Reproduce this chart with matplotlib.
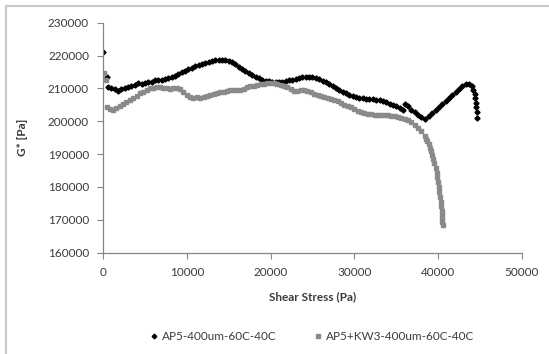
import matplotlib
matplotlib.use("Agg")
import matplotlib.pyplot as plt
from matplotlib.lines import Line2D

# AP5-400um-60C-40C
stress_a = [0, 480, 600, 1000, 1400, 1800, 2200, 2600, 3000, 3400, 3800, 4200,
            4600, 5000, 5400, 5800, 6200, 6600, 7000, 7400, 7800, 8200, 8600,
            9000, 9400, 9800, 10200, 10600, 11000, 11400, 11800, 12200, 12600,
            13000, 13400, 13800, 14200, 14600, 15000, 15400, 15800, 16200,
            16600, 17000, 17400, 17800, 18200, 18600, 19000, 19400, 19800,
            20200, 20600, 21000, 21400, 21800, 22200, 22600, 23000, 23400,
            23800, 24200, 24600, 25000, 25400, 25800, 26200, 26600, 27000,
            27400, 27800, 28200, 28600, 29000, 29400, 29800, 30200, 30600,
            31000, 31400, 31800, 32200, 32600, 33000, 33400, 33800, 34200,
            34600, 35000, 35400, 35800, 36000, 36400, 36800, 37200, 37600,
            38000, 38400, 38900, 39300, 39700, 40100, 40500, 40900, 41300,
            41700, 42100, 42500, 42900, 43300, 43700, 44000, 44200, 44350,
            44450, 44520, 44570, 44600, 44610]
gstar_a = [221200, 213400, 210400, 210100, 209700, 209300, 209700, 210200,
           210400, 210600, 211000, 211500, 211300, 211700, 212000, 211900,
           212600, 212500, 212700, 212900, 213200, 213500, 213900, 214400,
           214900, 215400, 215800, 216300, 216700, 217000, 217400, 217700,
           218000, 218300, 218500, 218600, 218700, 218500, 218200, 217900,
           217300, 216600, 215900, 215300, 214700, 214100, 213600, 213100,
           212700, 212400, 212200, 212100, 212000, 212000, 212100, 212300,
           212500, 212700, 212900, 213200, 213400, 213400, 213500, 213400,
           213100, 212800, 212400, 211800, 211200, 210600, 210000, 209500,
           209000, 208500, 208100, 207800, 207500, 207200, 207000, 206900,
           206800, 206700, 206600, 206500, 206300, 205900, 205400, 205000,
           204500, 204000, 203400, 205300, 204500, 203500, 202700, 201900,
           201200, 200600, 201500, 202400, 203400, 204300, 205200, 206200,
           207100, 208000, 208900, 209900, 210700, 211200, 211200, 210600,
           209600, 208400, 207100, 205700, 204300, 202800, 201100]

# AP5+KW3-400um-60C-40C
stress_b = [100, 350, 450, 800, 1200, 1600, 2000, 2400, 2800, 3200, 3600,
            4000, 4400, 4800, 5200, 5600, 6000, 6400, 6800, 7200, 7600, 8000,
            8400, 8800, 9200, 9600, 10000, 10400, 10800, 11200, 11600, 12000,
            12400, 12800, 13200, 13600, 14000, 14400, 14800, 15200, 15600,
            16000, 16400, 16800, 17200, 17600, 18000, 18400, 18800, 19200,
            19600, 20000, 20400, 20800, 21200, 21600, 22000, 22400, 22800,
            23200, 23600, 24000, 24400, 24800, 25200, 25600, 26000, 26400,
            26800, 27200, 27600, 28000, 28400, 28800, 29200, 29600, 30000,
            30400, 30800, 31200, 31600, 32000, 32400, 32800, 33200, 33600,
            34000, 34400, 34800, 35200, 35600, 36000, 36400, 36800, 37200,
            37600, 38000, 38400, 38550, 38700, 38850, 39000, 39150, 39300,
            39420, 39550, 39680, 39800, 39900, 40000, 40080, 40150, 40230,
            40300, 40350, 40400, 40440, 40480, 40510, 40560]
gstar_b = [214800, 212600, 204300, 203600, 203400, 204000, 204600, 205200,
           205900, 206500, 207100, 207800, 208500, 209000, 209500, 210000,
           210100, 210500, 210400, 210200, 210000, 209900, 210000, 210000,
           209800, 208800, 208000, 207300, 207100, 207300, 207200, 207500,
           207700, 208100, 208400, 208700, 208800, 208900, 209200, 209400,
           209500, 209500, 209600, 209900, 210300, 210600, 210800, 211000,
           211200, 211400, 211500, 211600, 211500, 211300, 211000, 210800,
           210300, 209800, 209300, 209100, 209400, 209600, 209300, 208800,
           208400, 208100, 207800, 207400, 207000, 206700, 206400, 206100,
           205600, 205100, 204600, 204200, 203700, 203200, 202800, 202500,
           202200, 202100, 202000, 202000, 201900, 201900, 201800, 201700,
           201500, 201300, 201100, 200800, 200400, 199800, 199000, 198000,
           196900, 195400, 194700, 193900, 193000, 192000, 190900, 189700,
           188500, 187200, 185800, 184300, 182900, 181400, 180000, 178500,
           177000, 175500, 174200, 172800, 171600, 170400, 169400, 168300]

names = ["AP5-400um-60C-40C", "AP5+KW3-400um-60C-40C"]
x_ticks = [0, 10000, 20000, 30000, 40000, 50000]
y_ticks = [160000, 170000, 180000, 190000, 200000, 210000, 220000, 230000]

plt.rcParams["font.family"] = ["Lato", "DejaVu Sans"]
axis_grey = "#868686"
text_col = "#3b3b3b"

fig = plt.figure(figsize=(5.49, 3.54), dpi=100)
ax = fig.add_axes([0.1876, 0.2862, 0.7632, 0.6497])

ax.plot(stress_a, gstar_a, linestyle="none", marker="D", markersize=2.6,
        color="black", label=names[0])
ax.plot(stress_b, gstar_b, linestyle="none", marker="s", markersize=3.0,
        color="#8a8a8a", label=names[1])

ax.set_xlim(0, 50000)
ax.set_ylim(160000, 230000)
ax.set_xticks(x_ticks)
ax.set_yticks(y_ticks)
ax.tick_params(direction="out", length=4, width=0.8, color=axis_grey,
               labelsize=8.5, labelcolor=text_col, pad=6)
for side in ["top", "right"]:
    ax.spines[side].set_visible(False)
for side in ["left", "bottom"]:
    ax.spines[side].set_color(axis_grey)
    ax.spines[side].set_linewidth(0.9)

ax.set_xlabel("Shear Stress (Pa)", fontsize=8.5, fontweight="bold",
              color=text_col, labelpad=10)
ax.set_ylabel("G* [Pa]", fontsize=8.5, fontweight="bold",
              color=text_col, labelpad=14)

ax.legend(loc="center", bbox_to_anchor=(0.5, -0.365), ncol=2, frameon=False,
          fontsize=8.5, labelcolor=text_col, handlelength=0.6,
          handletextpad=0.4, columnspacing=3.2, markerscale=0.9)

# chart area border (top and left edges)
fig.add_artist(Line2D([6 / 549, 6 / 549], [0, 1 - 6 / 354],
                      transform=fig.transFigure, color="#c8c8c8", lw=1.5))
fig.add_artist(Line2D([6 / 549, 1], [1 - 6 / 354, 1 - 6 / 354],
                      transform=fig.transFigure, color="#c8c8c8", lw=1.5))

fig.savefig("out.png", dpi=100)
